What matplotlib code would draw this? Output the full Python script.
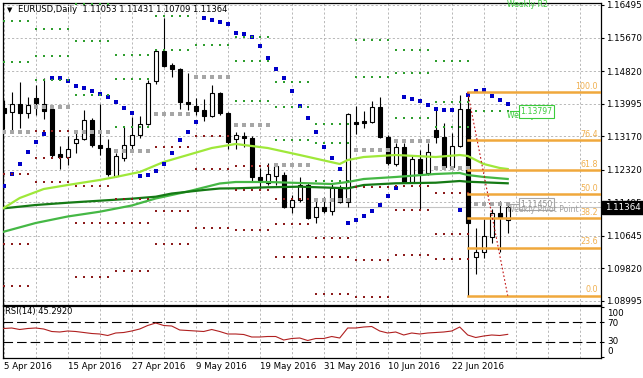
import matplotlib
matplotlib.use('Agg')
import matplotlib.pyplot as plt
import matplotlib.transforms as mtransforms
import numpy as np

plt.rcParams['font.family'] = ['DejaVu Sans']

# daily EURUSD candles, 5 Apr 2016 .. 1 Jul 2016
opens = [1.13877, 1.13792, 1.13978, 1.13750, 1.14130, 1.13987, 1.13860, 1.12720, 1.12652, 1.12990,
         1.13091, 1.13581, 1.12948, 1.12863, 1.12162, 1.12610, 1.12939, 1.13193, 1.13471, 1.14561,
         1.15330, 1.14975, 1.14865, 1.14029, 1.13936, 1.13834, 1.13691, 1.14265, 1.13750, 1.13091,
         1.13176, 1.13133, 1.12128, 1.11993, 1.12162, 1.12187, 1.11385, 1.11554, 1.11934, 1.11115,
         1.11368, 1.11284, 1.11849, 1.11512, 1.13530, 1.13564, 1.13539, 1.13902, 1.13142, 1.12458,
         1.12906, 1.12018, 1.12584, 1.12229, 1.13328, 1.13142, 1.12399, 1.12931, 1.13851, 1.10109,
         1.10236, 1.10616, 1.11224, 1.11053]
highs = [1.14088, 1.14299, 1.14552, 1.14172, 1.14468, 1.14637, 1.13919, 1.12931, 1.13176, 1.13311,
         1.13834, 1.13623, 1.13987, 1.13091, 1.12736, 1.13412, 1.13649, 1.13683, 1.14595, 1.15372,
         1.16157, 1.15017, 1.14890, 1.14781, 1.14130, 1.14113, 1.14468, 1.14299, 1.13792, 1.13285,
         1.13285, 1.13176, 1.12356, 1.12483, 1.12500, 1.12272, 1.11681, 1.12145, 1.11976, 1.11554,
         1.11638, 1.11976, 1.11934, 1.13750, 1.13936, 1.13818, 1.14063, 1.14172, 1.13201, 1.12990,
         1.12990, 1.12694, 1.12821, 1.12990, 1.13902, 1.13497, 1.13243, 1.14215, 1.14285, 1.10844,
         1.11072, 1.11326, 1.11528, 1.11431]
lows = [1.13345, 1.13311, 1.13370, 1.13623, 1.13708, 1.13598, 1.12652, 1.12331, 1.12441, 1.12736,
        1.13074, 1.12906, 1.12694, 1.12162, 1.12128, 1.12551, 1.12821, 1.13116, 1.13454, 1.14485,
        1.14933, 1.14662, 1.13851, 1.13834, 1.13708, 1.13564, 1.13666, 1.13708, 1.12838, 1.12838,
        1.12906, 1.12018, 1.11807, 1.11934, 1.11934, 1.11343, 1.11216, 1.11512, 1.11064, 1.10962,
        1.11216, 1.11174, 1.11469, 1.11385, 1.13226, 1.13370, 1.13513, 1.13116, 1.12441, 1.12415,
        1.11976, 1.11976, 1.11317, 1.12187, 1.13007, 1.12356, 1.12356, 1.12906, 1.09130, 1.09679,
        1.10084, 1.10464, 1.10236, 1.10709]
closes = [1.13767, 1.13978, 1.13750, 1.13953, 1.14020, 1.13818, 1.12694, 1.12652, 1.12846, 1.13091,
          1.13581, 1.12948, 1.12863, 1.12213, 1.12669, 1.12939, 1.13193, 1.13471, 1.14510, 1.15330,
          1.14958, 1.14865, 1.14046, 1.13995, 1.13818, 1.13691, 1.14257, 1.13750, 1.13032, 1.13193,
          1.13116, 1.12145, 1.12061, 1.12213, 1.12424, 1.11385, 1.11554, 1.11934, 1.11089, 1.11368,
          1.11284, 1.11849, 1.11512, 1.13725, 1.13488, 1.13513, 1.13902, 1.13142, 1.12500, 1.12888,
          1.12018, 1.12584, 1.12246, 1.12762, 1.13142, 1.12399, 1.12931, 1.13851, 1.10979, 1.10236,
          1.10641, 1.11224, 1.11123, 1.11364]

date_pos = [0, 8, 16, 24, 32, 40, 48, 56]
date_labels = ['5 Apr 2016', '15 Apr 2016', '27 Apr 2016', '9 May 2016',
               '19 May 2016', '31 May 2016', '10 Jun 2016', '22 Jun 2016']
price_ticks = [1.16495, 1.15670, 1.14820, 1.13995, 1.13170, 1.12320,
               1.11495, 1.10645, 1.09820, 1.08995]

# moving averages (bar index, value)
ma_fast_idx = [0, 2, 5, 8, 12, 14, 17, 20, 23, 26, 29, 33, 37, 42, 43, 45, 49, 54, 57, 58, 60, 62, 63]
ma_fast = [1.11351, 1.11604, 1.11832, 1.11934, 1.12061, 1.12137, 1.12263, 1.12517, 1.12694, 1.12871,
           1.12973, 1.12871, 1.12694, 1.12466, 1.12567, 1.12643, 1.12694, 1.12643, 1.12694, 1.12669,
           1.12466, 1.12365, 1.12339]
ma_mid_idx = [0, 4, 8, 12, 16, 19, 23, 27, 29, 33, 37, 41, 43, 45, 49, 54, 57, 58, 60, 63]
ma_mid = [1.10750, 1.10971, 1.11136, 1.11257, 1.11414, 1.11592, 1.11769, 1.11972, 1.12010, 1.12010,
          1.11985, 1.11959, 1.12010, 1.12086, 1.12137, 1.12213, 1.12238, 1.12187, 1.12137, 1.12086]
ma_slow_idx = [0, 4, 8, 12, 16, 19, 21, 25, 27, 29, 33, 37, 41, 43, 45, 49, 54, 57, 58, 63]
ma_slow = [1.11343, 1.11427, 1.11485, 1.11536, 1.11587, 1.11637, 1.11718, 1.11807, 1.11845, 1.11850,
           1.11876, 1.11891, 1.11865, 1.11850, 1.11934, 1.11977, 1.11992, 1.12035, 1.12017, 1.11977]

# parabolic SAR
sar = [1.11909, 1.12212, 1.12466, 1.12770, 1.13023, 1.13226, 1.14645, 1.14645, 1.14569, 1.14442,
       1.14392, 1.14316, 1.14240, 1.14164, 1.14037, 1.13885, 1.13758, 1.12162, 1.12187, 1.12288,
       1.12466, 1.12745, 1.13074, 1.13277, 1.13530, 1.16166, 1.16115, 1.16064, 1.16014, 1.15785,
       1.15760, 1.15684, 1.15456, 1.15152, 1.14873, 1.14645, 1.14316, 1.13936, 1.13632, 1.13277,
       1.12897, 1.12618, 1.12339, 1.10971, 1.11047, 1.11148, 1.11275, 1.11427, 1.11655, 1.11858,
       1.14164, 1.14113, 1.14062, 1.13961, 1.13860, 1.13834, 1.13834, 1.11300, 1.14214, 1.14316,
       1.14341, 1.14189, 1.14088, 1.13986]

rsi = [57, 58, 55, 57, 58, 56, 51, 50, 52, 51, 49, 47, 46, 43, 48, 49, 52, 56, 63, 68,
       63, 62, 54, 53, 52, 51, 55, 51, 46, 46, 45, 40, 40, 41, 41, 34, 37, 38, 33, 37,
       37, 41, 38, 58, 58, 60, 61, 52, 48, 50, 44, 48, 46, 48, 49, 50, 52, 60, 44, 39,
       42, 44, 43, 45.292]

# weekly pivots: week starts and previous-week H/L/C for the first two weeks
week_starts = [0, 4, 9, 14, 19, 24, 29, 34, 39, 44, 49, 54, 59]
prev_hlc_start = [(1.14327, 1.11497, 1.13986), (1.14534, 1.13241, 1.13979)]

fib_bars = [58, 63]
fib_levels = [0.0, 23.6, 38.2, 50.0, 61.8, 76.4, 100.0]

W, H = 643, 378
fig = plt.figure(figsize=(W / 100, H / 100), dpi=100)


def box(x0, y0, x1, y1):
    return [x0 / W, 1 - y1 / H, (x1 - x0) / W, (y1 - y0) / H]


ax = fig.add_axes(box(2.5, 2.5, 601, 304.5))
ax2 = fig.add_axes(box(2.5, 306, 601, 357.5))
xlim = (-0.15, 74.66)
grid_kw = dict(color='#b8b8b8', lw=0.7, ls=(0, (2.2, 2.2)), zorder=0)

x = np.arange(len(opens))
o, h, l, c = (np.array(v) for v in (opens, highs, lows, closes))
up = c >= o

for a in (ax, ax2):
    a.set_xlim(*xlim)
    for g in range(0, 75, 4):
        a.axvline(g, **grid_kw)
    for s in a.spines.values():
        s.set_linewidth(0.9)
for p in price_ticks:
    ax.axhline(p, **grid_kw)
ax.axhline(closes[-1], color='#c4c4c4', lw=0.8, zorder=1)

# candles
ax.vlines(x, l, h, color='black', lw=0.8, zorder=3)
ax.bar(x[up], np.maximum((c - o)[up], 0.00004), bottom=o[up], width=0.55,
       facecolor='white', edgecolor='black', lw=0.8, zorder=4)
ax.bar(x[~up], np.maximum((o - c)[~up], 0.00004), bottom=c[~up], width=0.55,
       facecolor='black', edgecolor='black', lw=0.8, zorder=4)

# moving averages
ax.plot(ma_mid_idx, ma_mid, color='#45b845', lw=1.6, zorder=5)
ax.plot(ma_slow_idx, ma_slow, color='#157a15', lw=1.6, zorder=5)
ax.plot(ma_fast_idx, ma_fast, color='#9fe83a', lw=1.6, zorder=5)

# parabolic SAR
ax.plot(x, sar, 's', color='#0000c8', ms=2.3, mew=0, zorder=6)

# weekly pivot dots
week_hlc = list(prev_hlc_start)
for k in range(2, len(week_starts)):
    a0, b0 = week_starts[k - 1], week_starts[k]
    week_hlc.append((max(highs[a0:b0]), min(lows[a0:b0]), closes[b0 - 1]))
ends = week_starts[1:] + [len(opens)]
for (wh, wl, wc), s0, e0 in zip(week_hlc, week_starts, ends):
    pp = (wh + wl + wc) / 3
    bx = np.arange(s0, e0)
    res = [2 * pp - wl, pp + (wh - wl), wh + 2 * (pp - wl)]
    sup = [2 * pp - wh, pp - (wh - wl), wl - 2 * (wh - pp)]
    for r in res:
        ax.plot(bx, [r] * len(bx), 's', color='#2e9e2e', ms=1.5, mew=0, zorder=6)
    for r in sup:
        ax.plot(bx, [r] * len(bx), 's', color='#8c1c1c', ms=1.5, mew=0, zorder=6)
    ax.plot(bx, [pp] * len(bx), 's', color='#a6a6a6', ms=2.8, mew=0, zorder=6)

# fibonacci retracement
fib_hi, fib_lo = highs[fib_bars[0]], lows[fib_bars[0]]
fib_col = '#f0a83c'
for lv in fib_levels:
    p = fib_lo + (fib_hi - fib_lo) * lv / 100
    ax.plot([fib_bars[0], xlim[1]], [p, p], color=fib_col, lw=1.8, zorder=7)
    ax.text(74.3, p + 0.0003, f'{lv:.1f}', ha='right', va='bottom', color='#f0b050',
            fontsize=5.8, zorder=8)
ax.plot(fib_bars, [fib_hi, fib_lo], color='#c01010', lw=0.8, ls=(0, (1.5, 2)), zorder=7)

# weekly labels
lx = 62.9
ax.text(lx, 1.1662, 'Weekly R2', color='#3ccc3c', fontsize=5.6, va='top', ha='left', zorder=9)
ax.plot([63.3, 64.4], [1.13797, 1.13797], color='#3ccc3c', lw=0.8, zorder=8)
ax.text(lx, 1.13797, 'Weekly R1', color='#3ccc3c', fontsize=5.6, va='top', ha='left', zorder=9)
ax.text(64.6, 1.13797, '1.13797', color='#3ccc3c', fontsize=5.6, va='center', ha='left', zorder=10,
        bbox=dict(boxstyle='square,pad=0.2', fc='white', ec='#3ccc3c', lw=0.8))
ax.plot([63.3, 64.4], [1.11450, 1.11450], color='#a6a6a6', lw=0.8, zorder=8)
ax.text(64.6, 1.11450, '1.11450', color='#909090', fontsize=5.6, va='center', ha='left', zorder=10,
        bbox=dict(boxstyle='square,pad=0.2', fc='none', ec='#a6a6a6', lw=0.8))
ax.text(lx, 1.11430, 'Weekly Pivot Point', color='#a0a0a0', fontsize=5.6, va='top', ha='left',
        zorder=11)

ax.set_ylim(1.08906, 1.16558)
ax.yaxis.tick_right()
ax.set_yticks(price_ticks)
ax.set_yticklabels([f'{p:.5f}' for p in price_ticks])
ax.tick_params(axis='y', length=2.5, width=0.8, labelsize=6.3, pad=1.2)
ax.set_xticks([])

trans = mtransforms.blended_transform_factory(ax.transAxes, ax.transData)
ax.text(1.006, closes[-1], f'{closes[-1]:.5f}', transform=trans, color='white', fontsize=6.3,
        va='center', ha='left', zorder=20, clip_on=False,
        bbox=dict(boxstyle='square,pad=0.28', fc='black', ec='black'))

fig.text(7 / W, 1 - 10 / H, '\u25bc', fontsize=5, va='center', ha='left')
fig.text(18 / W, 1 - 10 / H,
         f'EURUSD,Daily  {opens[-1]:.5f} {highs[-1]:.5f} {lows[-1]:.5f} {closes[-1]:.5f}',
         fontsize=6, va='center', ha='left')

# RSI panel
ax2.plot(x, rsi, color='#b02020', lw=0.8, zorder=3)
for lvl in (70, 30):
    ax2.axhline(lvl, color='black', lw=0.8, ls=(0, (8.6, 3.6)), zorder=2)
ax2.set_ylim(-1, 102)
ax2.set_yticks([100, 70, 30, 0])
ax2.yaxis.tick_right()
ax2.set_yticklabels([])
ax2.tick_params(axis='y', length=2.5, width=0.8)
rt = mtransforms.blended_transform_factory(ax2.transAxes, ax2.transData)
for val, ypos in ((100, 88), (70, 66), (30, 30), (0, 12)):
    ax2.text(1.01, ypos, str(val), transform=rt, fontsize=6.3, va='center', ha='left', clip_on=False)
ax2.set_xticks(date_pos)
ax2.set_xticklabels(date_labels)
for t in ax2.get_xticklabels():
    t.set_ha('left')
ax2.tick_params(axis='x', length=0, labelsize=6.2, pad=3.5)
fig.text(5 / W, 1 - 311.5 / H, f'RSI(14) {rsi[-1]:.4f}', fontsize=6, va='center', ha='left')

fig.savefig('out.png', dpi=100)
